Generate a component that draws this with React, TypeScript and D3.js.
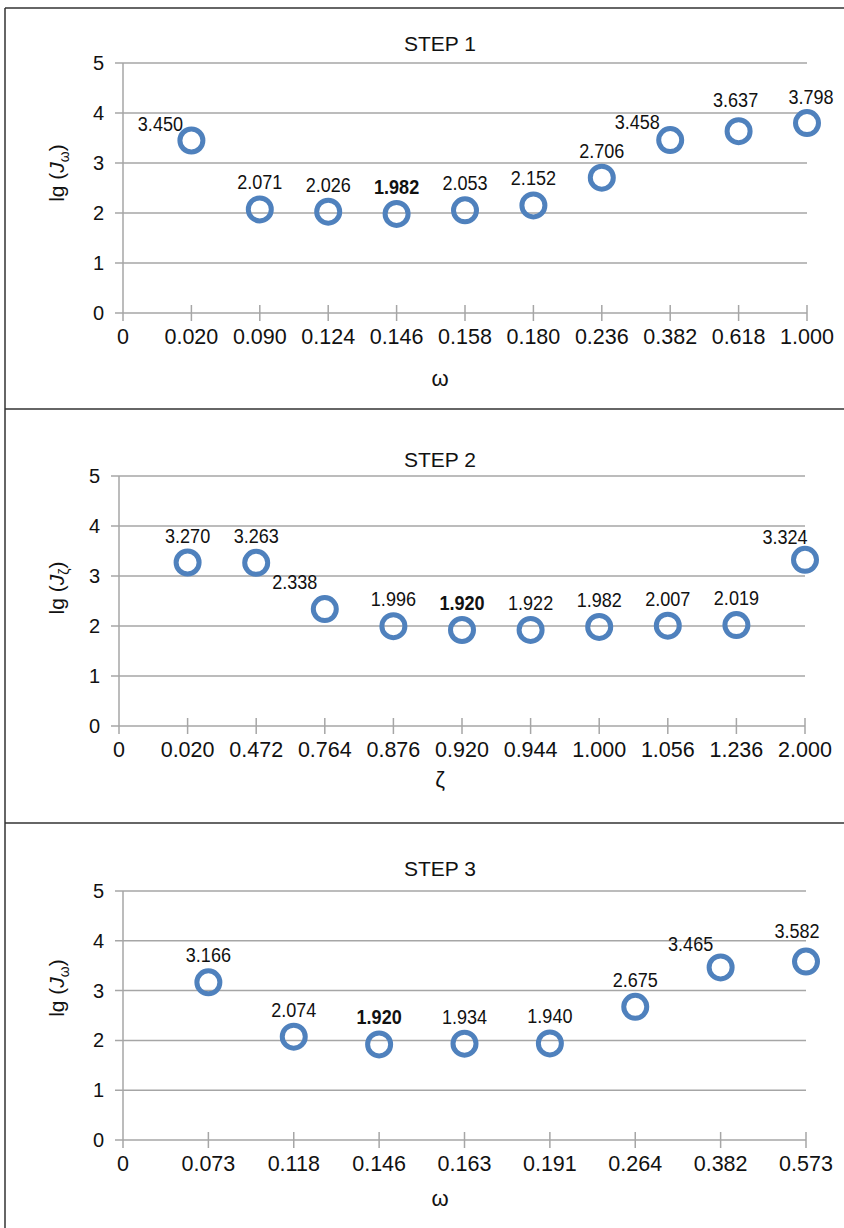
import React from "react";
import * as d3 from "d3";

// step 1: omega sweep
const step1Omega = ["0.020", "0.090", "0.124", "0.146", "0.158", "0.180", "0.236", "0.382", "0.618", "1.000"];
const step1Values = [3.45, 2.071, 2.026, 1.982, 2.053, 2.152, 2.706, 3.458, 3.637, 3.798];
const step1Best = "0.146";

// step 2: zeta sweep
const step2Zeta = ["0.020", "0.472", "0.764", "0.876", "0.920", "0.944", "1.000", "1.056", "1.236", "2.000"];
const step2Values = [3.27, 3.263, 2.338, 1.996, 1.92, 1.922, 1.982, 2.007, 2.019, 3.324];
const step2Best = "0.920";

// step 3: omega sweep again
const step3Omega = ["0.073", "0.118", "0.146", "0.163", "0.191", "0.264", "0.382", "0.573"];
const step3Values = [3.166, 2.074, 1.92, 1.934, 1.94, 2.675, 3.465, 3.582];
const step3Best = "0.146";

const yTicks = [0, 1, 2, 3, 4, 5];

// label nudges (dx, dy) where excel moved them off the grid lines
const step1Nudge = { "0.020": [-31, 10], "0.382": [-33, 9], "0.618": [-3, -4], "1.000": [4, 1] };
const step2Nudge = { "0.764": [-30, 0], "2.000": [-20, 4] };
const step3Nudge = { "0.382": [-30, 4], "0.573": [-9, -4] };

const BLUE = "#4f81bd";
const GRID = "#a6a6a6";
const FONT = "'Liberation Sans', Arial, sans-serif";

const Panel = ({ cats, values, best, nudge, box, title, sym }) => {
  const x = d3.scalePoint().domain(["0", ...cats]).range([box.left, box.right]);
  const y = d3.scaleLinear().domain([0, 5]).range([box.zero, box.top]);
  const midX = 440;

  return (
    <g>
      <text x={midX} y={box.titleY} textAnchor="middle" fontSize={21} fontFamily={FONT} fill="#111">{title}</text>

      {/* grid + y ticks */}
      {yTicks.map((t) => (
        <g key={t}>
          <line x1={box.left - 8} x2={box.right} y1={y(t)} y2={y(t)} stroke={GRID} strokeWidth={1.5} />
          <text x={box.left - 19} y={y(t) + 7} textAnchor="end" fontSize={20} fontFamily={FONT} fill="#111">{t}</text>
        </g>
      ))}

      {/* y axis */}
      <line x1={box.left} x2={box.left} y1={y(5)} y2={y(0) + 8} stroke={GRID} strokeWidth={1.5} />

      {/* x ticks */}
      {x.domain().map((c) => (
        <g key={c}>
          {c !== "0" && <line x1={x(c)} x2={x(c)} y1={y(0) - 8} y2={y(0) + 8} stroke={GRID} strokeWidth={1.5} />}
          <text x={x(c)} y={y(0) + 31} textAnchor="middle" fontSize={21.5} fontFamily={FONT} fill="#111">{c}</text>
        </g>
      ))}

      {/* axis titles */}
      <text x={midX} y={box.xTitleY} textAnchor="middle" fontSize={22} fontFamily={FONT} fill="#111">{sym}</text>
      <text transform={`translate(${box.yTitleX},${box.yTitleY}) rotate(-90)`} textAnchor="middle" fontSize={21} fontFamily={FONT} fill="#111">
        lg (<tspan fontStyle="italic">J</tspan><tspan fontSize={14} dy={5}>{sym}</tspan><tspan dy={-5}>)</tspan>
      </text>

      {/* points */}
      {cats.map((c, i) => (
        <circle key={c} cx={x(c)} cy={y(values[i])} r={11.5} fill="none" stroke={BLUE} strokeWidth={5} />
      ))}

      {/* data labels */}
      {cats.map((c, i) => {
        const [dx, dy] = nudge[c] || [0, 0];
        const lx = x(c) + dx;
        const ly = y(values[i]) - 20 + dy;
        return (
          <text
            key={c}
            transform={`translate(${lx},${ly}) scale(0.88,1)`}
            textAnchor="middle"
            fontSize={20.5}
            fontWeight={c === best ? "bold" : "normal"}
            fontFamily={FONT}
            fill="#111"
          >
            {values[i].toFixed(3)}
          </text>
        );
      })}
    </g>
  );
};

export default function App() {
  return (
    <svg width={844} height={1228} style={{ position: "absolute", left: 0, top: 0, background: "#fff" }}>
      <rect width={844} height={1228} fill="#fff" />
      {/* frame */}
      <line x1={5} x2={844} y1={8} y2={8} stroke="#333" strokeWidth={1.5} />
      <line x1={5} x2={5} y1={8} y2={1228} stroke="#333" strokeWidth={1.5} />
      <line x1={5} x2={844} y1={409} y2={409} stroke="#333" strokeWidth={1.5} />
      <line x1={5} x2={844} y1={823} y2={823} stroke="#333" strokeWidth={1.5} />

      <Panel
        cats={step1Omega}
        values={step1Values}
        best={step1Best}
        nudge={step1Nudge}
        title="STEP 1"
        sym="ω"
        box={{ left: 123, right: 807, zero: 313, top: 63, titleY: 51, xTitleY: 386, yTitleX: 64, yTitleY: 173 }}
      />
      <Panel
        cats={step2Zeta}
        values={step2Values}
        best={step2Best}
        nudge={step2Nudge}
        title="STEP 2"
        sym="ζ"
        box={{ left: 119, right: 805, zero: 726, top: 476, titleY: 467, xTitleY: 787, yTitleX: 64, yTitleY: 588 }}
      />
      <Panel
        cats={step3Omega}
        values={step3Values}
        best={step3Best}
        nudge={step3Nudge}
        title="STEP 3"
        sym="ω"
        box={{ left: 123, right: 806, zero: 1140, top: 891, titleY: 876, xTitleY: 1206, yTitleX: 64, yTitleY: 988 }}
      />
    </svg>
  );
}
